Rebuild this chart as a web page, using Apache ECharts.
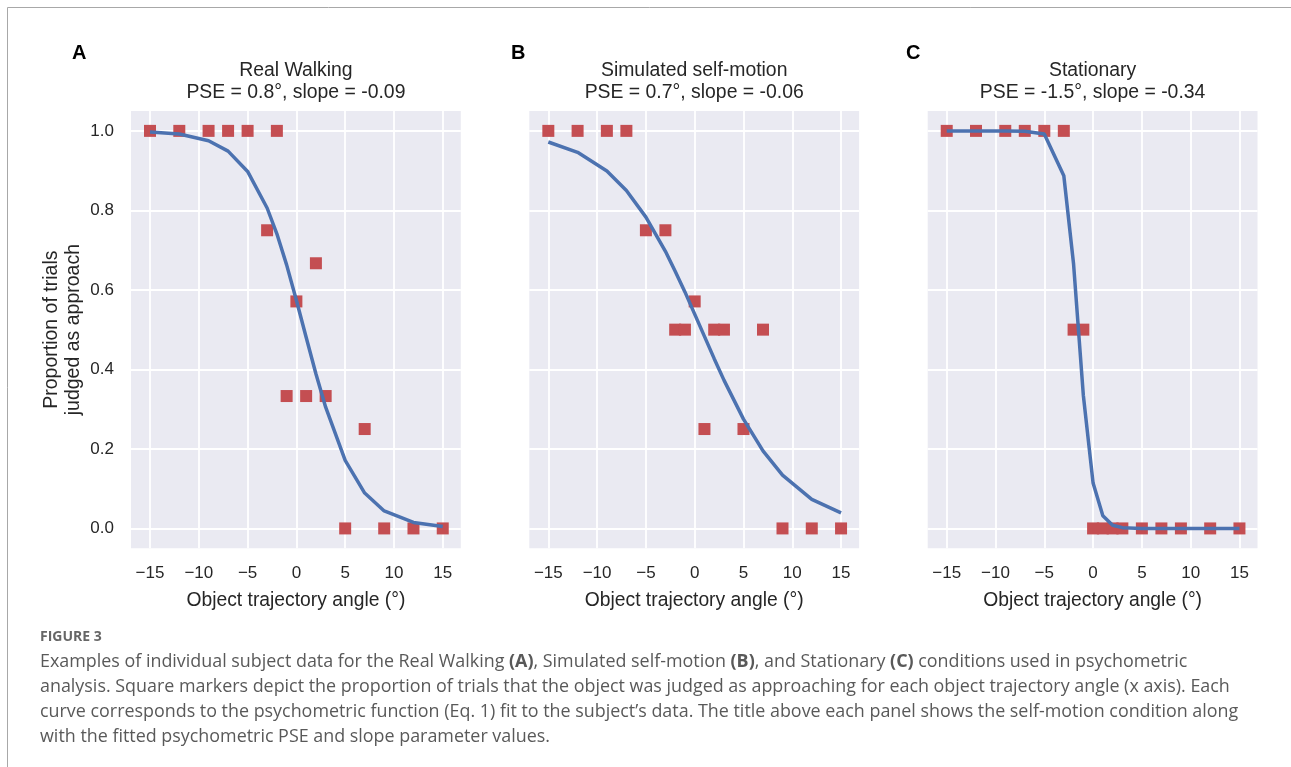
<!DOCTYPE html>
<html>
<head>
<meta charset="utf-8">
<script src="https://cdn.jsdelivr.net/npm/echarts@6/dist/echarts.min.js"></script>
<style>
  html, body { margin: 0; padding: 0; background: #fff; }
  #main { width: 1291px; height: 767px; }
</style>
</head>
<body>
<div id="main"></div>
<script>
var myChart = echarts.init(document.getElementById('main'));

// trajectory angles (deg) used in every panel
var angles = [-15, -12, -9, -7, -5, -3, -2, -1, 0, 1, 2, 3, 5, 7, 9, 12, 15];

// proportion judged as approach (square markers)
var walkPoints = [1, 1, 1, 1, 1, 0.75, 1, 0.333, 0.571, 0.333, 0.667, 0.333, 0, 0.25, 0, 0, 0];
var simPoints = [1, 1, 1, 1, 0.75, 0.75, 0.5, 0.5, 0.571, 0.25, 0.5, 0.5, 0.25, 0.5, 0, 0, 0];
var statPoints = [1, 1, 1, 1, 1, 1, 0.5, 0.5, 0, 0, 0, 0, 0, 0, 0, 0, 0];

// fitted psychometric curves
var walkFit = [0.997, 0.992, 0.975, 0.949, 0.898, 0.806, 0.741, 0.663, 0.574, 0.481, 0.389, 0.305, 0.171, 0.089, 0.044, 0.015, 0.005];
var simFit = [0.972, 0.946, 0.899, 0.850, 0.783, 0.697, 0.647, 0.595, 0.539, 0.483, 0.427, 0.373, 0.275, 0.195, 0.134, 0.073, 0.039];
var statFit = [1.0, 1.0, 1.0, 0.999, 0.992, 0.887, 0.665, 0.335, 0.114, 0.032, 0.008, 0.002, 0.0, 0.0, 0.0, 0.0, 0.0];

var panelTitles = ['Real Walking\nPSE = 0.8°, slope = -0.09',
                   'Simulated self-motion\nPSE = 0.7°, slope = -0.06',
                   'Stationary\nPSE = -1.5°, slope = -0.34'];
var panelLetters = ['A', 'B', 'C'];
var xTicks = [-15, -10, -5, 0, 5, 10, 15];
var yTicks = [0, 0.2, 0.4, 0.6, 0.8, 1.0];

var captionLines = [
    'Examples of individual subject data for the Real Walking {b|(A)}, Simulated self-motion {b|(B)}, and Stationary {b|(C)} conditions used in psychometric',
    'analysis. Square markers depict the proportion of trials that the object was judged as approaching for each object trajectory angle (x axis). Each',
    'curve corresponds to the psychometric function (Eq. 1) fit to the subject\u2019s data. The title above each panel shows the self-motion condition along',
    'with the fitted psychometric PSE and slope parameter values.'
];

var pointSets = [walkPoints, simPoints, statPoints];
var fitSets = [walkFit, simFit, statFit];
var gridLefts = [131, 529.3, 927.7];
var plotW = 329.8;
var font = '"Liberation Sans", Arial, sans-serif';
var txt = '#262626';
var capSize = 17.9;

function pairs(xs, ys) {
    return xs.map(function(x, i) { return [x, ys[i]]; });
}

var grids = [], xAxes = [], yAxes = [], series = [], titles = [];
var graphics = [];

for (var i = 0; i < 3; i++) {
    grids.push({
        left: gridLefts[i], top: 111, width: plotW, height: 437.3,
        show: true, backgroundColor: '#EAEAF2', borderWidth: 0
    });
    xAxes.push({
        gridIndex: i, type: 'value', min: -16.95, max: 16.85,
        name: 'Object trajectory angle (°)',
        nameLocation: 'middle', nameGap: 43,
        nameTextStyle: { fontFamily: font, fontSize: 19.3, color: txt },
        axisLine: { show: false },
        axisTick: { show: false, customValues: xTicks },
        axisLabel: {
            customValues: xTicks, margin: 17,
            fontFamily: font, fontSize: 17, color: txt,
            formatter: function(v) { return v < 0 ? '\u2212' + Math.abs(v) : String(v); }
        },
        splitLine: { show: true, lineStyle: { color: '#ffffff', width: 1.8 } }
    });
    yAxes.push({
        gridIndex: i, type: 'value', min: -0.05, max: 1.05,
        name: i === 0 ? 'Proportion of trials\njudged as approach' : '',
        nameLocation: 'middle', nameGap: 46, nameRotate: 90,
        nameTextStyle: { fontFamily: font, fontSize: 19.5, color: txt, lineHeight: 22 },
        axisLine: { show: false },
        axisTick: { show: false, customValues: yTicks },
        axisLabel: {
            show: i === 0, customValues: yTicks, margin: 17,
            fontFamily: font, fontSize: 17, color: txt,
            formatter: function(v) { return v.toFixed(1); }
        },
        splitLine: { show: true, lineStyle: { color: '#ffffff', width: 1.8 } }
    });
    series.push({
        type: 'scatter', xAxisIndex: i, yAxisIndex: i,
        symbol: 'rect', symbolSize: 12,
        itemStyle: { color: '#C44E52', opacity: 1 },
        data: pairs(angles, pointSets[i]), z: 2
    });
    series.push({
        type: 'line', xAxisIndex: i, yAxisIndex: i,
        showSymbol: false, symbol: 'none',
        lineStyle: { color: '#4C72B0', width: 3.5 },
        data: pairs(angles, fitSets[i]), z: 3
    });
    titles.push({
        text: panelTitles[i], padding: 0,
        left: gridLefts[i] + plotW / 2, top: 60, textAlign: 'center',
        textStyle: { fontFamily: font, fontSize: 19.4, fontWeight: 'normal', color: txt, lineHeight: 22 }
    });
    titles.push({
        text: panelLetters[i], padding: 0,
        left: [72, 511, 906][i], top: 43,
        textStyle: { fontFamily: font, fontSize: 20, fontWeight: 'bold', color: '#000' }
    });
}

// figure frame
graphics.push({ type: 'line', shape: { x1: 7.5, y1: 7.5, x2: 1291, y2: 7.5 }, style: { stroke: '#a8a8a8', lineWidth: 1 } });
graphics.push({ type: 'line', shape: { x1: 7.5, y1: 7.5, x2: 7.5, y2: 767 }, style: { stroke: '#a8a8a8', lineWidth: 1 } });

// caption
graphics.push({
    type: 'text', left: 40, top: 630,
    style: { text: 'FIGURE 3', font: 'bold 14px "Open Sans", sans-serif', fill: '#666666' }
});
captionLines.forEach(function(line, k) {
    graphics.push({
        type: 'text', left: 40, top: 662 - capSize / 2 + k * 24.8,
        style: {
            text: line, font: capSize + 'px "Open Sans", sans-serif', fill: '#595959',
            rich: { b: { fontWeight: 'bold', fontSize: capSize, fontFamily: '"Open Sans", sans-serif', fill: '#595959' } }
        }
    });
});

option = {
    backgroundColor: '#ffffff',
    animation: false,
    title: titles,
    grid: grids,
    xAxis: xAxes,
    yAxis: yAxes,
    series: series,
    graphic: graphics
};

myChart.setOption(option);
</script>
</body>
</html>
